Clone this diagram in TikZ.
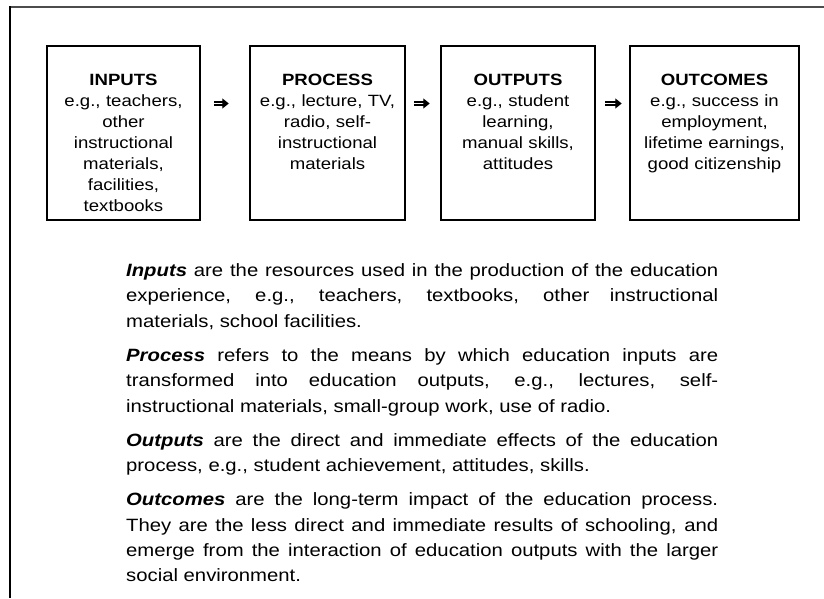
\documentclass[tikz,border=0pt]{standalone}
\usepackage{fontspec}
\setmainfont{Liberation Sans}[FakeStretch=1.14]
\usetikzlibrary{arrows.meta}
\begin{document}
\begin{tikzpicture}[x=1pt,y=-1pt,
  stage/.style={draw, line width=2.5pt, minimum height=174pt, inner sep=0pt},
  stagetext/.style={anchor=base, inner sep=0pt, text width=160pt, align=center,
    font=\fontsize{16.3}{21}\selectfont},
  flow/.style={double, double distance=1.7pt, line width=1.4pt,
    -{Triangle[length=6.5pt, width=10pt]}},
  desctext/.style={anchor=base west, inner sep=0pt, text width=592pt, align=justify,
    font=\fontsize{17.8}{25.3}\selectfont}
]
\useasboundingbox (0,0) rectangle (824,598);
\fill[white] (0,0) rectangle (824,598);

% outer frame, open at right and bottom
\draw[line width=2pt, black!70] (9,7) -- (824,7);
\draw[line width=2pt] (10,6) -- (10,598);

% the four stages
\node[stage, minimum width=153pt] (inputs)   at (123.5,133) {};
\node[stage, minimum width=155pt] (process)  at (327.5,133) {};
\node[stage, minimum width=154pt] (outputs)  at (518,133)   {};
\node[stage, minimum width=169pt] (outcomes) at (714.5,133) {};

\node[stagetext] (inputs-t) at ([yshift=-41pt]inputs.north)
  {\textbf{INPUTS}\\e.g., teachers,\\other\\instructional\\materials,\\facilities,\\textbooks};
\node[stagetext] (process-t) at ([yshift=-41pt]process.north)
  {\textbf{PROCESS}\\e.g., lecture, TV,\\radio, self-\\instructional\\materials};
\node[stagetext] (outputs-t) at ([yshift=-41pt]outputs.north)
  {\textbf{OUTPUTS}\\e.g., student\\learning,\\manual skills,\\attitudes};
\node[stagetext] (outcomes-t) at ([yshift=-41pt]outcomes.north)
  {\textbf{OUTCOMES}\\e.g., success in\\employment,\\lifetime earnings,\\good citizenship};

% arrows between stages
\draw[flow, shorten <=13pt, shorten >=20pt] ([yshift=29.5pt]inputs.east) -- ([yshift=29.5pt]process.west);
\draw[flow, shorten <=8pt, shorten >=10pt] ([yshift=29.5pt]process.east) -- ([yshift=29.5pt]outputs.west);
\draw[flow, shorten <=9pt, shorten >=7pt] ([yshift=29.5pt]outputs.east) -- ([yshift=29.5pt]outcomes.west);

% definitions
\node[desctext] (definitions) at (126,276.5) {\setlength{\parskip}{9pt}%
\textbf{\textit{Inputs}} are the resources used in the production of the education\linebreak
experience, e.g., teachers, textbooks, other instructional\linebreak
materials, school facilities.\par
\textbf{\textit{Process}} refers to the means by which education inputs are\linebreak
transformed into education outputs, e.g., lectures, self-\linebreak
instructional materials, small-group work, use of radio.\par
\textbf{\textit{Outputs}} are the direct and immediate effects of the education\linebreak
process, e.g., student achievement, attitudes, skills.\par
\textbf{\textit{Outcomes}} are the long-term impact of the education process.\linebreak
They are the less direct and immediate results of schooling, and\linebreak
emerge from the interaction of education outputs with the larger\linebreak
social environment.};
\end{tikzpicture}
\end{document}
